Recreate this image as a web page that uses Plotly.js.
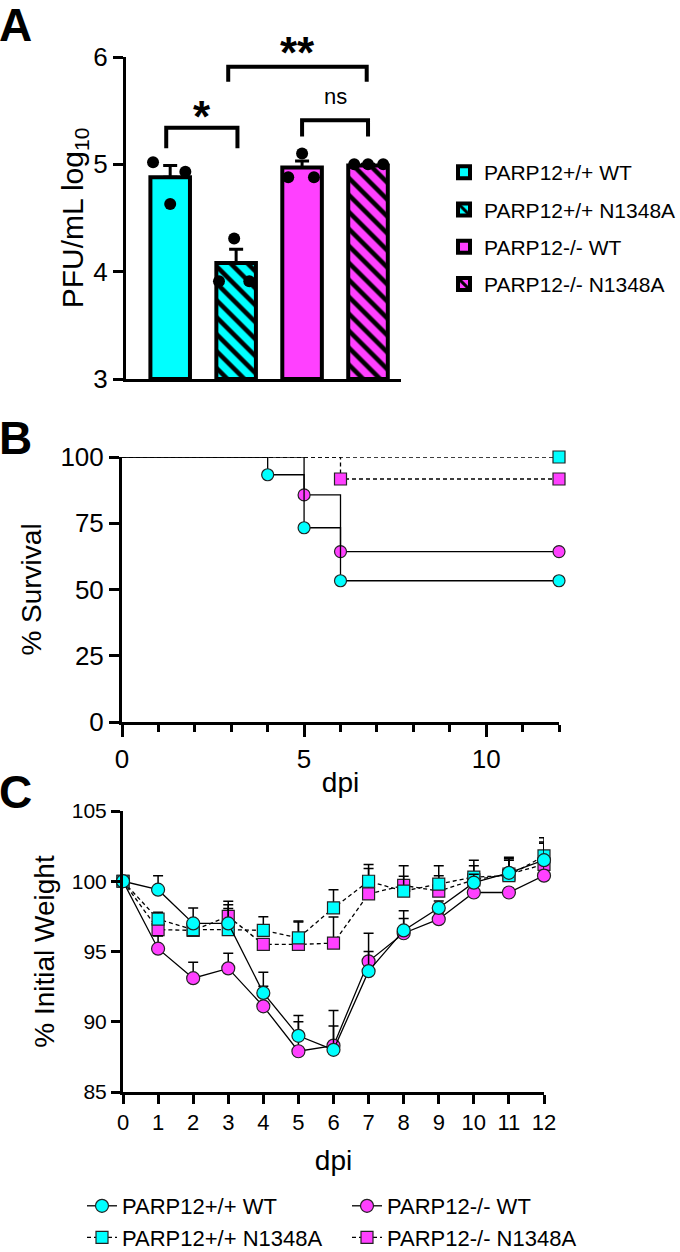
<!DOCTYPE html>
<html>
<head>
<meta charset="utf-8">
<script src="https://cdn.plot.ly/plotly-3.0.1.min.js"></script>
<style>
  html, body { margin: 0; padding: 0; background: #fff; }
  #fig { width: 680px; height: 1252px; }
</style>
</head>
<body>
<div id="fig"></div>
<script>
// ── Panel A: viral titer (PFU/mL, log10) ──
const groups = ['PARP12+/+ WT', 'PARP12+/+ N1348A', 'PARP12-/- WT', 'PARP12-/- N1348A'];
const titerMean = [4.88, 4.08, 4.97, 4.99];
const titerSem = [0.11, 0.13, 0.06, 0.01];
const titerPoints = [[5.02, 4.93, 4.63], [4.31, 3.91, 3.91], [5.10, 4.88, 4.88], [5.00, 5.00, 5.00]];
const titerJitter = [[-0.26, 0.23, 0], [-0.03, -0.26, 0.2], [0, -0.21, 0.18], [-0.21, 0, 0.23]];

// ── Panel B: survival (Kaplan-Meier steps) ──
const survDaysPpWT = [0, 4, 5, 6, 12];
const survPctPpWT = [100, 93.3, 73.3, 53.3, 53.3];
const survDaysKoWT = [0, 5, 6, 12];
const survPctKoWT = [100, 85.7, 64.3, 64.3];
const survDaysPpN = [0, 12];
const survPctPpN = [100, 100];
const survDaysKoN = [0, 6, 12];
const survPctKoN = [100, 91.7, 91.7];

// ── Panel C: weight loss ──
const dpi = [0, 1, 2, 3, 4, 5, 6, 7, 8, 9, 10, 11, 12];
const wtPpWT = [100, 99.4, 97.0, 97.0, 92.05, 89.0, 88.0, 93.6, 96.5, 98.1, 99.9, 100.6, 101.5];
const semPpWT = [0, 1.0, 1.1, 1.33, 1.47, 1.45, 2.8, 2.7, 1.4, 0.5, 0.6, 0.9, 1.3];
const wtKoWT = [100, 95.2, 93.1, 93.8, 91.1, 87.9, 88.3, 94.3, 96.3, 97.3, 99.2, 99.2, 100.4];
const semKoWT = [0, 0.9, 1.14, 1.07, 1.42, 2.1, 1.4, 0.7, 1.05, 0.4, 0.5, 0.3, 1.0];
const wtPpN = [100, 97.3, 96.56, 96.56, 96.5, 95.97, 98.1, 100, 99.3, 99.8, 100.3, 100.4, 101.8];
const semPpN = [0, 0.5, 0.4, 1.5, 0.97, 1.2, 1.3, 1.2, 1.05, 1.3, 1.2, 1.2, 1.3];
const wtKoN = [100, 96.56, 96.5, 97.5, 95.5, 95.5, 95.6, 99.1, 99.7, 99.3, 100.1, 100.5, 101.2];
const semKoN = [0, 0.4, 0.3, 1.07, 0.3, 1.6, 1.85, 1.8, 1.4, 1.1, 1.0, 1.2, 1.5];

const CYAN = '#00ffff';
const MAGENTA = '#ff40ff';
const FONT = 'Liberation Sans, Arial, sans-serif';
const W = 680, H = 1252;
const px = v => v / W;           // pixel → paper x
const py = v => 1 - v / H;       // pixel → paper y

const barColors = [CYAN, CYAN, MAGENTA, MAGENTA];
const hatched = [false, true, false, true];

const traces = [];

// bars (one trace per group so each gets a legend entry)
groups.forEach((g, i) => {
  traces.push({
    type: 'bar', x: [i], y: [titerMean[i] - 3], base: 3, width: 0.6,
    name: g, legendgroup: 'g' + i, xaxis: 'x', yaxis: 'y',
    marker: {
      color: barColors[i],
      line: { color: '#000', width: 4 },
      pattern: hatched[i]
        ? { shape: '\\', fgcolor: '#000', bgcolor: barColors[i], size: 12, solidity: 0.38 }
        : { shape: '' }
    },
    error_y: { type: 'data', symmetric: false, array: [titerSem[i]], arrayminus: [0], color: '#000', thickness: 3, width: 7 },
    hoverinfo: 'skip'
  });
});

// individual mice
groups.forEach((g, i) => {
  traces.push({
    type: 'scatter', mode: 'markers', xaxis: 'x', yaxis: 'y', showlegend: false,
    x: titerPoints[i].map((_, k) => i + titerJitter[i][k]),
    y: titerPoints[i],
    marker: { color: '#000', size: 12 },
    cliponaxis: false, hoverinfo: 'skip'
  });
});

// survival curves
function survTrace(days, pct, color, symbol, dash) {
  return {
    type: 'scatter', mode: 'lines+markers', xaxis: 'x2', yaxis: 'y2', showlegend: false,
    x: days, y: pct,
    line: { shape: 'hv', color: '#000', width: 1.3, dash: dash },
    marker: { color: color, symbol: symbol, size: 12, line: { color: '#222', width: 1.2 },
              opacity: days.map((d, k) => k === 0 ? 0 : 1) },
    cliponaxis: false, hoverinfo: 'skip'
  };
}
traces.push(survTrace(survDaysPpN, survPctPpN, CYAN, 'square', '4px,3px'));
traces.push(survTrace(survDaysKoN, survPctKoN, MAGENTA, 'square', '4px,3px'));
traces.push(survTrace(survDaysKoWT, survPctKoWT, MAGENTA, 'circle', 'solid'));
traces.push(survTrace(survDaysPpWT, survPctPpWT, CYAN, 'circle', 'solid'));

// weight curves
function weightTrace(name, y, sem, color, symbol, dash) {
  return {
    type: 'scatter', mode: 'lines+markers', xaxis: 'x3', yaxis: 'y3', legend: 'legend2',
    name: name, x: dpi, y: y,
    line: { color: '#000', width: 1.3, dash: dash },
    marker: { color: color, symbol: symbol, size: symbol === 'square' ? 12 : 13, line: { color: '#222', width: 1.2 } },
    error_y: { type: 'data', symmetric: false, array: sem, arrayminus: sem.map(() => 0), color: '#000', thickness: 1.5, width: 5 },
    cliponaxis: false, hoverinfo: 'skip'
  };
}
const wPpN = weightTrace('PARP12+/+ N1348A', wtPpN, semPpN, CYAN, 'square', '4px,3px');
const wKoN = weightTrace('PARP12-/- N1348A', wtKoN, semKoN, MAGENTA, 'square', '4px,3px');
const wKoWT = weightTrace('PARP12-/- WT', wtKoWT, semKoWT, MAGENTA, 'circle', 'solid');
const wPpWT = weightTrace('PARP12+/+ WT', wtPpWT, semPpWT, CYAN, 'circle', 'solid');
wPpWT.legendrank = 1; wKoWT.legendrank = 2; wPpN.legendrank = 3; wKoN.legendrank = 4;
traces.push(wKoN, wPpN, wKoWT, wPpWT);

const axisBase = {
  showgrid: false, zeroline: false, showline: true, linecolor: '#000', linewidth: 3,
  ticks: 'outside', tickcolor: '#000', tickwidth: 3, ticklen: 10,
  tickfont: { family: FONT, size: 26, color: '#000' }, fixedrange: true
};
const titleFont = { family: FONT, size: 28, color: '#000' };

const layout = {
  width: W, height: H,
  margin: { l: 0, r: 0, t: 0, b: 0, pad: 0, autoexpand: false },
  paper_bgcolor: '#fff', plot_bgcolor: 'rgba(0,0,0,0)',
  font: { family: FONT, color: '#000' },
  barmode: 'overlay',

  // A
  xaxis: { ...axisBase, domain: [px(126), px(401)], range: [-0.67, 3.5], anchor: 'y',
           ticks: '', showticklabels: false },
  yaxis: { ...axisBase, domain: [py(379), py(57)], range: [3, 6], dtick: 1, anchor: 'x',
           title: { text: 'PFU/mL log<sub>10</sub>', font: { ...titleFont, size: 30 }, standoff: 0 } },

  // B
  xaxis2: { ...axisBase, domain: [px(122), px(559)], range: [0, 12], anchor: 'y2',
            tickvals: [0, 5, 10], ticklen: 12,
            minor: { dtick: 1, ticks: 'outside', ticklen: 7, tickwidth: 3, tickcolor: '#000' },
            title: { text: 'dpi', font: titleFont, standoff: 0 } },
  yaxis2: { ...axisBase, domain: [py(722), py(457)], range: [0, 100], dtick: 25, anchor: 'x2',
            title: { text: '% Survival', font: titleFont, standoff: 11 } },

  // C
  xaxis3: { ...axisBase, domain: [px(123), px(544)], range: [0, 12], dtick: 1, anchor: 'y3',
            ticklen: 9, tickfont: { family: FONT, size: 22, color: '#000' },
            title: { text: 'dpi', font: titleFont, standoff: 16 } },
  yaxis3: { ...axisBase, domain: [py(1092), py(811)], range: [85, 105], dtick: 5, anchor: 'x3',
            ticklen: 9, tickfont: { family: FONT, size: 21, color: '#000' },
            title: { text: '% Initial Weight', font: titleFont, standoff: 9 } },

  legend: { x: px(444), y: py(152), xanchor: 'left', yanchor: 'top', bgcolor: 'rgba(0,0,0,0)',
            font: { family: FONT, size: 21, color: '#000' }, tracegroupgap: 7, traceorder: 'grouped' },
  legend2: { orientation: 'h', x: px(82), y: py(1185), xanchor: 'left', yanchor: 'top',
             bgcolor: 'rgba(0,0,0,0)', entrywidth: 220, traceorder: 'normal',
             font: { family: FONT, size: 22, color: '#000' } },

  shapes: [
    // * bracket
    { type: 'path', xref: 'x', yref: 'y', path: 'M -0.06,5.15 L -0.06,5.34 L 1.02,5.34 L 1.02,5.15',
      line: { color: '#000', width: 4 } },
    // ** bracket
    { type: 'path', xref: 'x', yref: 'y', path: 'M 0.88,5.77 L 0.88,5.91 L 2.98,5.91 L 2.98,5.77',
      line: { color: '#000', width: 4 } },
    // ns bracket
    { type: 'path', xref: 'x', yref: 'y', path: 'M 2.0,5.26 L 2.0,5.41 L 3.0,5.41 L 3.0,5.26',
      line: { color: '#000', width: 4 } }
  ],

  annotations: [
    { text: '<b>A</b>', x: px(-3), y: py(-3), xref: 'paper', yref: 'paper', xanchor: 'left', yanchor: 'top',
      showarrow: false, font: { family: FONT, size: 46 } },
    { text: '<b>B</b>', x: px(-3), y: py(410), xref: 'paper', yref: 'paper', xanchor: 'left', yanchor: 'top',
      showarrow: false, font: { family: FONT, size: 46 } },
    { text: '<b>C</b>', x: px(-3), y: py(764), xref: 'paper', yref: 'paper', xanchor: 'left', yanchor: 'top',
      showarrow: false, font: { family: FONT, size: 46 } },
    { text: '<b>*</b>', x: 0.48, y: 5.45, xref: 'x', yref: 'y', showarrow: false, yanchor: 'middle',
      font: { family: FONT, size: 44 } },
    { text: '<b>**</b>', x: px(297), y: py(53), xref: 'paper', yref: 'paper', showarrow: false,
      xanchor: 'center', yanchor: 'middle', font: { family: FONT, size: 44 } },
    { text: 'ns', x: 2.5, y: 5.5, xref: 'x', yref: 'y', showarrow: false, yanchor: 'bottom',
      font: { family: FONT, size: 22 } }
  ]
};

Plotly.newPlot('fig', traces, layout, { staticPlot: true, displayModeBar: false });
</script>
</body>
</html>
